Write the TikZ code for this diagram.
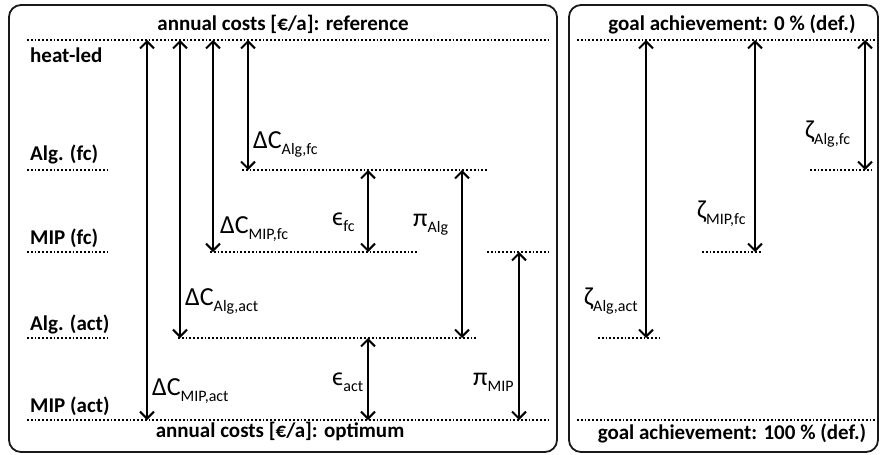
\documentclass[tikz,border=0pt]{standalone}
\usepackage{fontspec}
\setmainfont{Carlito}
\usetikzlibrary{arrows.meta}

\newcommand{\lsub}[1]{\raisebox{-0.25em}{\fontsize{16}{18}\selectfont #1}}

\begin{document}
\begin{tikzpicture}[
    x=1pt, y=-1pt,
    frame/.style={draw=black!90, line width=1.8pt, rounded corners=12pt},
    level/.style={dash pattern=on 1.7pt off 2.1pt, line width=1.7pt},
    dim/.style={{Straight Barb[length=7pt,width=14pt]}-{Straight Barb[length=7pt,width=14pt]}, line width=2pt},
    head/.style={font=\fontsize{21}{23}\selectfont\bfseries, anchor=base, inner sep=0pt},
    case/.style={font=\fontsize{21}{23}\selectfont\bfseries, anchor=base west, inner sep=0pt},
    sym/.style={font=\fontsize{26}{28}\selectfont, anchor=base west, inner sep=0pt},
  ]
  \useasboundingbox (0,0) rectangle (881,455);

  \draw[frame] (9,5) rectangle (557,452);
  \draw[frame] (569,5) rectangle (878,452);

  \coordinate (ref) at (0,40);
  \coordinate (algfc) at (0,170);
  \coordinate (mipfc) at (0,252);
  \coordinate (algact) at (0,338);
  \coordinate (mipact) at (0,420);

  \node[head] (costref) at (283,30) {annual costs [€/a]: reference};
  \node[head] (costopt) at (280,437) {annual costs [€/a]: optimum};
  \node[head] (goal0) at (732,30) {goal achievement: 0 \% (def.)};
  \node[head] (goal100) at (732,439) {goal achievement: 100 \% (def.)};

  \node[case] (heatled) at (30,62) {heat-led};
  \node[case] (algfclab) at (30,160) {Alg. (fc)};
  \node[case] (mipfclab) at (30,244) {MIP (fc)};
  \node[case] (algactlab) at (30,330) {Alg. (act)};
  \node[case] (mipactlab) at (30,412) {MIP (act)};

  \draw[level] (27,0 |- ref) -- (548,0 |- ref);
  \draw[level] (27,0 |- algfc) -- (107,0 |- algfc);
  \draw[level] (242,0 |- algfc) -- (487,0 |- algfc);
  \draw[level] (27,0 |- mipfc) -- (107,0 |- mipfc);
  \draw[level] (210,0 |- mipfc) -- (417,0 |- mipfc);
  \draw[level] (487,0 |- mipfc) -- (548,0 |- mipfc);
  \draw[level] (27,0 |- algact) -- (107,0 |- algact);
  \draw[level] (178,0 |- algact) -- (477,0 |- algact);
  \draw[level] (27,0 |- mipact) -- (548,0 |- mipact);

  \draw[level] (577,0 |- ref) -- (875,0 |- ref);
  \draw[level] (810,0 |- algfc) -- (872,0 |- algfc);
  \draw[level] (702,0 |- mipfc) -- (762,0 |- mipfc);
  \draw[level] (598,0 |- algact) -- (660,0 |- algact);
  \draw[level] (577,0 |- mipact) -- (875,0 |- mipact);

  \draw[dim] (147,0 |- ref) -- (147,0 |- mipact);
  \draw[dim] (180,0 |- ref) -- (180,0 |- algact);
  \draw[dim] (213,0 |- ref) -- (213,0 |- mipfc);
  \draw[dim] (248,0 |- ref) -- (248,0 |- algfc);
  \draw[dim] (368,0 |- algfc) -- (368,0 |- mipfc);
  \draw[dim] (368,0 |- algact) -- (368,0 |- mipact);
  \draw[dim] (462,0 |- algfc) -- (462,0 |- algact);
  \draw[dim] (519,0 |- mipfc) -- (519,0 |- mipact);

  \draw[dim] (646,0 |- ref) -- (646,0 |- algact);
  \draw[dim] (755,0 |- ref) -- (755,0 |- mipfc);
  \draw[dim] (865,0 |- ref) -- (865,0 |- algfc);

  \node[sym] (dcalgfc) at (253,148) {ΔC\lsub{Alg,fc}};
  \node[sym] (dcmipfc) at (220,233) {ΔC\lsub{MIP,fc}};
  \node[sym] (dcalgact) at (185,305) {ΔC\lsub{Alg,act}};
  \node[sym] (dcmipact) at (152,395) {ΔC\lsub{MIP,act}};
  \node[sym] (epsfc) at (332,225) {ϵ\lsub{fc}};
  \node[sym] (epsact) at (332,385) {ϵ\lsub{act}};
  \node[sym] (pialg) at (413,226) {π\lsub{Alg}};
  \node[sym] (pimip) at (473,385) {π\lsub{MIP}};
  \node[sym] (zalgfc) at (805,138) {ζ\lsub{Alg,fc}};
  \node[sym] (zmipfc) at (697,218) {ζ\lsub{MIP,fc}};
  \node[sym] (zalgact) at (584,305) {ζ\lsub{Alg,act}};
\end{tikzpicture}
\end{document}
